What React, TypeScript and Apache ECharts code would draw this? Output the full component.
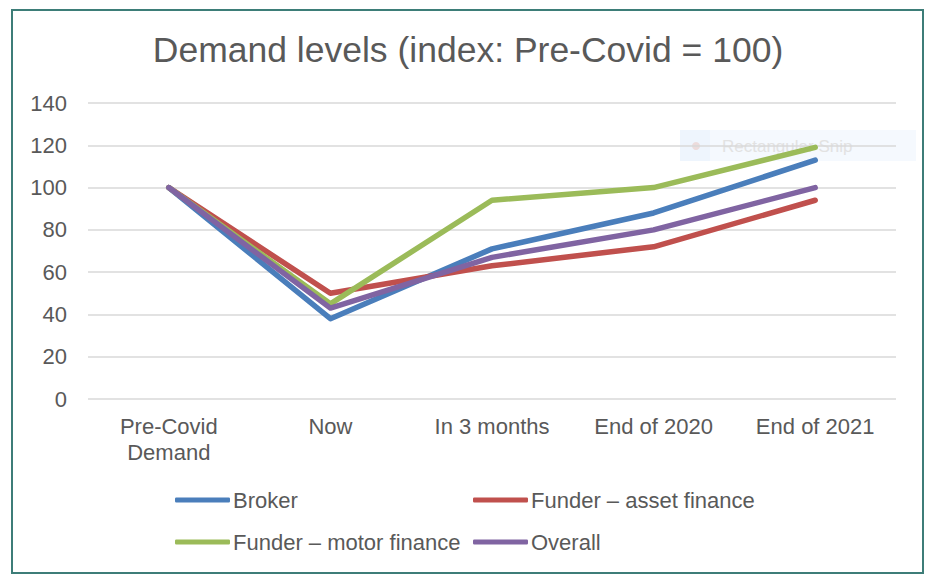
import React, { useEffect, useRef } from "react";
import * as echarts from "echarts";

const categories = ["Pre-Covid\nDemand", "Now", "In 3 months", "End of 2020", "End of 2021"];
const broker = [100, 38, 71, 88, 113];
const funderAsset = [100, 50, 63, 72, 94];
const funderMotor = [100, 45, 94, 100, 119];
const overall = [100, 43, 67, 80, 100];
const seriesNames = ["Broker", "Funder – asset finance", "Funder – motor finance", "Overall"];
const seriesColors = ["#4a7ebb", "#c0504d", "#9bbb59", "#8064a2"];

export default function App() {
  const ref = useRef<HTMLDivElement>(null);
  useEffect(() => {
    if (!ref.current) return;
    const chart = echarts.init(ref.current, null, { renderer: "svg" });
    const font = "'Liberation Sans', Arial, sans-serif";
    const data = [broker, funderAsset, funderMotor, overall];
    const legendBase = {
      orient: "vertical",
      top: 489,
      padding: 0,
      itemWidth: 55,
      itemHeight: 5,
      itemGap: 20,
      icon: "roundRect",
      textStyle: { fontFamily: font, fontSize: 22, color: "#595959", padding: [0, 0, 0, -2] },
    };
    chart.setOption({
      animation: false,
      backgroundColor: "#ffffff",
      title: {
        text: "Demand levels (index: Pre-Covid = 100)",
        left: "center",
        top: 27,
        textStyle: { fontFamily: font, fontSize: 35.5, fontWeight: "normal", color: "#595959" },
      },
      grid: { left: 88, right: 40, top: 103, bottom: 187, containLabel: false },
      xAxis: {
        type: "category",
        data: categories,
        boundaryGap: true,
        axisLine: { show: false },
        axisTick: { show: false },
        axisLabel: { fontFamily: font, fontSize: 22, color: "#595959", margin: 14, lineHeight: 26, interval: 0 },
      },
      yAxis: {
        type: "value",
        min: 0,
        max: 140,
        interval: 20,
        axisLine: { show: false },
        axisTick: { show: false },
        axisLabel: { fontFamily: font, fontSize: 22, color: "#595959", margin: 21 },
        splitLine: { lineStyle: { color: "#d9d9d9", width: 1.5 } },
      },
      legend: [
        { ...legendBase, data: [seriesNames[0], seriesNames[2]], left: 175 },
        { ...legendBase, data: [seriesNames[1], seriesNames[3]], left: 473 },
      ],
      graphic: [
        {
          type: "rect",
          z: -1,
          shape: { x: 12, y: 10, width: 911, height: 563 },
          style: { fill: "none", stroke: "#3d7d78", lineWidth: 2 },
        },
        {
          type: "group",
          z: 1,
          children: [
            { type: "rect", shape: { x: 680, y: 130, width: 236, height: 31 }, style: { fill: "rgba(225,238,252,0.35)" } },
            { type: "rect", shape: { x: 680, y: 130, width: 30, height: 31 }, style: { fill: "rgba(225,238,252,0.35)" } },
            { type: "circle", shape: { cx: 696, cy: 146, r: 4 }, style: { fill: "#ecdcdc" } },
            {
              type: "text",
              x: 722,
              y: 146,
              style: { text: "Rectangular Snip", fontFamily: font, fontSize: 17, fill: "#e2e2e2", verticalAlign: "middle" },
            },
          ],
        },
      ],
      series: data.map((d, i) => ({
        name: seriesNames[i],
        type: "line",
        data: d,
        symbol: "none",
        z: 3 + i,
        color: seriesColors[i],
        lineStyle: { width: 5.5, color: seriesColors[i], cap: "round", join: "round" },
      })),
    });
    return () => chart.dispose();
  }, []);
  return <div ref={ref} style={{ position: "absolute", left: 0, top: 0, width: 936, height: 586 }} />;
}
